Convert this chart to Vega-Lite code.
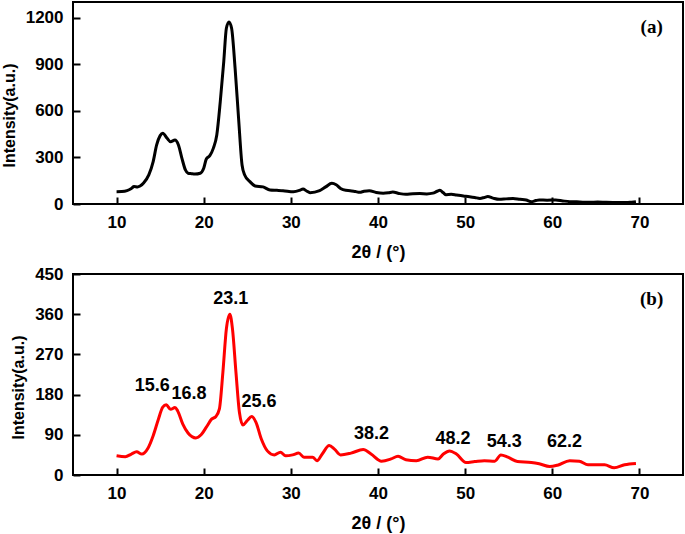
{
  "$schema": "https://vega.github.io/schema/vega-lite/v6.json",
  "padding": {"top": 1, "left": 0, "right": 2, "bottom": 2},
  "background": "white",
  "bounds": "flush",
  "spacing": 70,
  "config": {
    "view": {"stroke": "black", "strokeWidth": 2},
    "axis": {
      "grid": false,
      "domain": false,
      "labelFont": "Liberation Sans",
      "labelFontWeight": "bold",
      "labelFontSize": 17,
      "labelColor": "black",
      "titleFont": "Liberation Sans",
      "titleFontWeight": "bold",
      "titleColor": "black",
      "tickColor": "black",
      "tickWidth": 2,
      "tickSize": -7,
      "format": "d"
    },
    "axisX": {"labelPadding": 17, "titlePadding": 13, "titleFontSize": 18},
    "axisY": {"labelPadding": 17, "titlePadding": 8, "titleFontSize": 16, "titleY": 113}
  },
  "datasets": {
    "a": [
      {"x": 10.0, "y": 79}, {"x": 10.6, "y": 80}, {"x": 11.2, "y": 86}, {"x": 11.7, "y": 100}, {"x": 12.0, "y": 112},
      {"x": 12.4, "y": 110}, {"x": 12.7, "y": 116}, {"x": 13.1, "y": 135}, {"x": 13.7, "y": 187}, {"x": 14.2, "y": 273},
      {"x": 14.6, "y": 380}, {"x": 15.0, "y": 440}, {"x": 15.3, "y": 455}, {"x": 15.8, "y": 423}, {"x": 16.2, "y": 401},
      {"x": 16.7, "y": 412}, {"x": 17.1, "y": 380}, {"x": 17.5, "y": 294}, {"x": 17.9, "y": 219}, {"x": 18.2, "y": 198},
      {"x": 18.6, "y": 195}, {"x": 19.0, "y": 193}, {"x": 19.6, "y": 198}, {"x": 20.0, "y": 230}, {"x": 20.3, "y": 290},
      {"x": 20.7, "y": 311}, {"x": 21.1, "y": 358}, {"x": 21.5, "y": 444}, {"x": 21.9, "y": 659}, {"x": 22.3, "y": 917},
      {"x": 22.6, "y": 1131}, {"x": 22.9, "y": 1172}, {"x": 23.2, "y": 1131}, {"x": 23.6, "y": 874}, {"x": 24.0, "y": 552},
      {"x": 24.4, "y": 251}, {"x": 24.7, "y": 187}, {"x": 25.3, "y": 144}, {"x": 25.9, "y": 116}, {"x": 26.8, "y": 110},
      {"x": 27.6, "y": 90}, {"x": 28.4, "y": 88}, {"x": 29.1, "y": 86}, {"x": 30.3, "y": 79}, {"x": 31.0, "y": 88},
      {"x": 31.4, "y": 97}, {"x": 31.8, "y": 84}, {"x": 32.2, "y": 73}, {"x": 33.3, "y": 86}, {"x": 34.0, "y": 110},
      {"x": 34.7, "y": 133}, {"x": 35.2, "y": 124}, {"x": 35.7, "y": 100}, {"x": 36.3, "y": 88}, {"x": 36.8, "y": 86},
      {"x": 37.4, "y": 80}, {"x": 37.9, "y": 75}, {"x": 38.4, "y": 82}, {"x": 39.0, "y": 86}, {"x": 39.8, "y": 74},
      {"x": 40.6, "y": 69}, {"x": 41.2, "y": 72}, {"x": 41.7, "y": 77}, {"x": 42.4, "y": 68}, {"x": 43.2, "y": 62},
      {"x": 44.0, "y": 66}, {"x": 44.8, "y": 67}, {"x": 45.6, "y": 65}, {"x": 46.3, "y": 70}, {"x": 46.8, "y": 82},
      {"x": 47.1, "y": 88}, {"x": 47.5, "y": 72}, {"x": 47.8, "y": 60}, {"x": 48.4, "y": 62}, {"x": 49.0, "y": 58},
      {"x": 49.8, "y": 52}, {"x": 50.5, "y": 47}, {"x": 51.1, "y": 42}, {"x": 51.7, "y": 36}, {"x": 52.2, "y": 42},
      {"x": 52.6, "y": 48}, {"x": 53.2, "y": 38}, {"x": 53.9, "y": 30}, {"x": 54.7, "y": 33}, {"x": 55.5, "y": 36},
      {"x": 56.3, "y": 30}, {"x": 57.0, "y": 26}, {"x": 57.6, "y": 15}, {"x": 58.1, "y": 22}, {"x": 58.5, "y": 26},
      {"x": 59.4, "y": 24}, {"x": 60.4, "y": 26}, {"x": 61.2, "y": 20}, {"x": 62.0, "y": 15}, {"x": 62.8, "y": 14},
      {"x": 63.5, "y": 12}, {"x": 64.3, "y": 11}, {"x": 65.2, "y": 13}, {"x": 66.2, "y": 11}, {"x": 67.3, "y": 10},
      {"x": 68.5, "y": 9}, {"x": 69.1, "y": 12}, {"x": 69.6, "y": 15}
    ],
    "b": [
      {"x": 10.0, "y": 43}, {"x": 11.0, "y": 41}, {"x": 11.7, "y": 47}, {"x": 12.3, "y": 52}, {"x": 12.9, "y": 47},
      {"x": 13.6, "y": 60}, {"x": 14.2, "y": 88}, {"x": 14.8, "y": 125}, {"x": 15.3, "y": 152}, {"x": 15.7, "y": 157},
      {"x": 16.2, "y": 147}, {"x": 16.7, "y": 151}, {"x": 17.0, "y": 144}, {"x": 17.6, "y": 114}, {"x": 18.2, "y": 94},
      {"x": 19.1, "y": 83}, {"x": 19.7, "y": 90}, {"x": 20.3, "y": 107}, {"x": 20.9, "y": 125}, {"x": 21.4, "y": 131},
      {"x": 21.8, "y": 148}, {"x": 22.2, "y": 230}, {"x": 22.6, "y": 327}, {"x": 23.0, "y": 360}, {"x": 23.3, "y": 327},
      {"x": 23.7, "y": 230}, {"x": 24.1, "y": 140}, {"x": 24.5, "y": 112}, {"x": 25.0, "y": 122}, {"x": 25.5, "y": 131},
      {"x": 26.0, "y": 118}, {"x": 26.6, "y": 81}, {"x": 27.3, "y": 54}, {"x": 28.1, "y": 45}, {"x": 28.8, "y": 51},
      {"x": 29.4, "y": 43}, {"x": 30.2, "y": 45}, {"x": 30.9, "y": 49}, {"x": 31.5, "y": 40}, {"x": 32.5, "y": 40},
      {"x": 33.0, "y": 32}, {"x": 33.6, "y": 47}, {"x": 34.4, "y": 66}, {"x": 35.0, "y": 58}, {"x": 35.7, "y": 45},
      {"x": 36.9, "y": 49}, {"x": 38.3, "y": 57}, {"x": 39.2, "y": 47}, {"x": 40.4, "y": 31}, {"x": 41.5, "y": 36},
      {"x": 42.3, "y": 42}, {"x": 43.2, "y": 34}, {"x": 44.4, "y": 32}, {"x": 45.7, "y": 40}, {"x": 46.9, "y": 36},
      {"x": 47.5, "y": 47}, {"x": 48.2, "y": 54}, {"x": 49.0, "y": 47}, {"x": 50.1, "y": 28}, {"x": 51.1, "y": 30},
      {"x": 52.2, "y": 32}, {"x": 53.4, "y": 31}, {"x": 54.1, "y": 45}, {"x": 54.9, "y": 40}, {"x": 56.0, "y": 30},
      {"x": 57.6, "y": 28}, {"x": 58.5, "y": 25}, {"x": 59.7, "y": 19}, {"x": 60.6, "y": 22}, {"x": 62.0, "y": 32},
      {"x": 63.1, "y": 31}, {"x": 64.1, "y": 23}, {"x": 66.0, "y": 23}, {"x": 67.1, "y": 16}, {"x": 68.3, "y": 23},
      {"x": 69.6, "y": 26}
    ],
    "peaks": [
      {"x": 14.1, "y": 200, "label": "15.6"},
      {"x": 18.3, "y": 181, "label": "16.8"},
      {"x": 23.1, "y": 394, "label": "23.1"},
      {"x": 26.35, "y": 163, "label": "25.6"},
      {"x": 39.25, "y": 91, "label": "38.2"},
      {"x": 48.6, "y": 81, "label": "48.2"},
      {"x": 54.5, "y": 73, "label": "54.3"},
      {"x": 61.4, "y": 73, "label": "62.2"}
    ],
    "tagA": [{"x": 71.4, "y": 1140, "label": "(a)"}],
    "tagB": [{"x": 71.4, "y": 395, "label": "(b)"}]
  },
  "vconcat": [
    {
      "width": 610,
      "height": 202,
      "layer": [
        {
          "data": {"name": "a"},
          "mark": {"type": "line", "color": "black", "strokeWidth": 3, "interpolate": "monotone"},
          "encoding": {
            "x": {"field": "x", "type": "quantitative", "scale": {"domain": [5, 75], "nice": false},
                  "axis": {"values": [10, 20, 30, 40, 50, 60, 70], "title": "2θ / (°)"}},
            "y": {"field": "y", "type": "quantitative", "scale": {"domain": [0, 1300], "nice": false},
                  "axis": {"values": [0, 300, 600, 900, 1200], "title": "Intensity(a.u.)"}}
          }
        },
        {
          "data": {"name": "tagA"},
          "mark": {"type": "text", "font": "Liberation Serif", "fontWeight": "bold", "fontSize": 19, "color": "black", "baseline": "middle"},
          "encoding": {
            "x": {"field": "x", "type": "quantitative"},
            "y": {"field": "y", "type": "quantitative"},
            "text": {"field": "label"}
          }
        }
      ]
    },
    {
      "width": 610,
      "height": 201,
      "layer": [
        {
          "data": {"name": "b"},
          "mark": {"type": "line", "color": "#ff0000", "strokeWidth": 3, "interpolate": "monotone"},
          "encoding": {
            "x": {"field": "x", "type": "quantitative", "scale": {"domain": [5, 75], "nice": false},
                  "axis": {"values": [10, 20, 30, 40, 50, 60, 70], "title": "2θ / (°)"}},
            "y": {"field": "y", "type": "quantitative", "scale": {"domain": [0, 450], "nice": false},
                  "axis": {"values": [0, 90, 180, 270, 360, 450], "title": "Intensity(a.u.)"}}
          }
        },
        {
          "data": {"name": "peaks"},
          "mark": {"type": "text", "font": "Liberation Sans", "fontWeight": "bold", "fontSize": 18, "color": "black", "baseline": "middle"},
          "encoding": {
            "x": {"field": "x", "type": "quantitative"},
            "y": {"field": "y", "type": "quantitative"},
            "text": {"field": "label"}
          }
        },
        {
          "data": {"name": "tagB"},
          "mark": {"type": "text", "font": "Liberation Serif", "fontWeight": "bold", "fontSize": 19, "color": "black", "baseline": "middle"},
          "encoding": {
            "x": {"field": "x", "type": "quantitative"},
            "y": {"field": "y", "type": "quantitative"},
            "text": {"field": "label"}
          }
        }
      ]
    }
  ]
}
